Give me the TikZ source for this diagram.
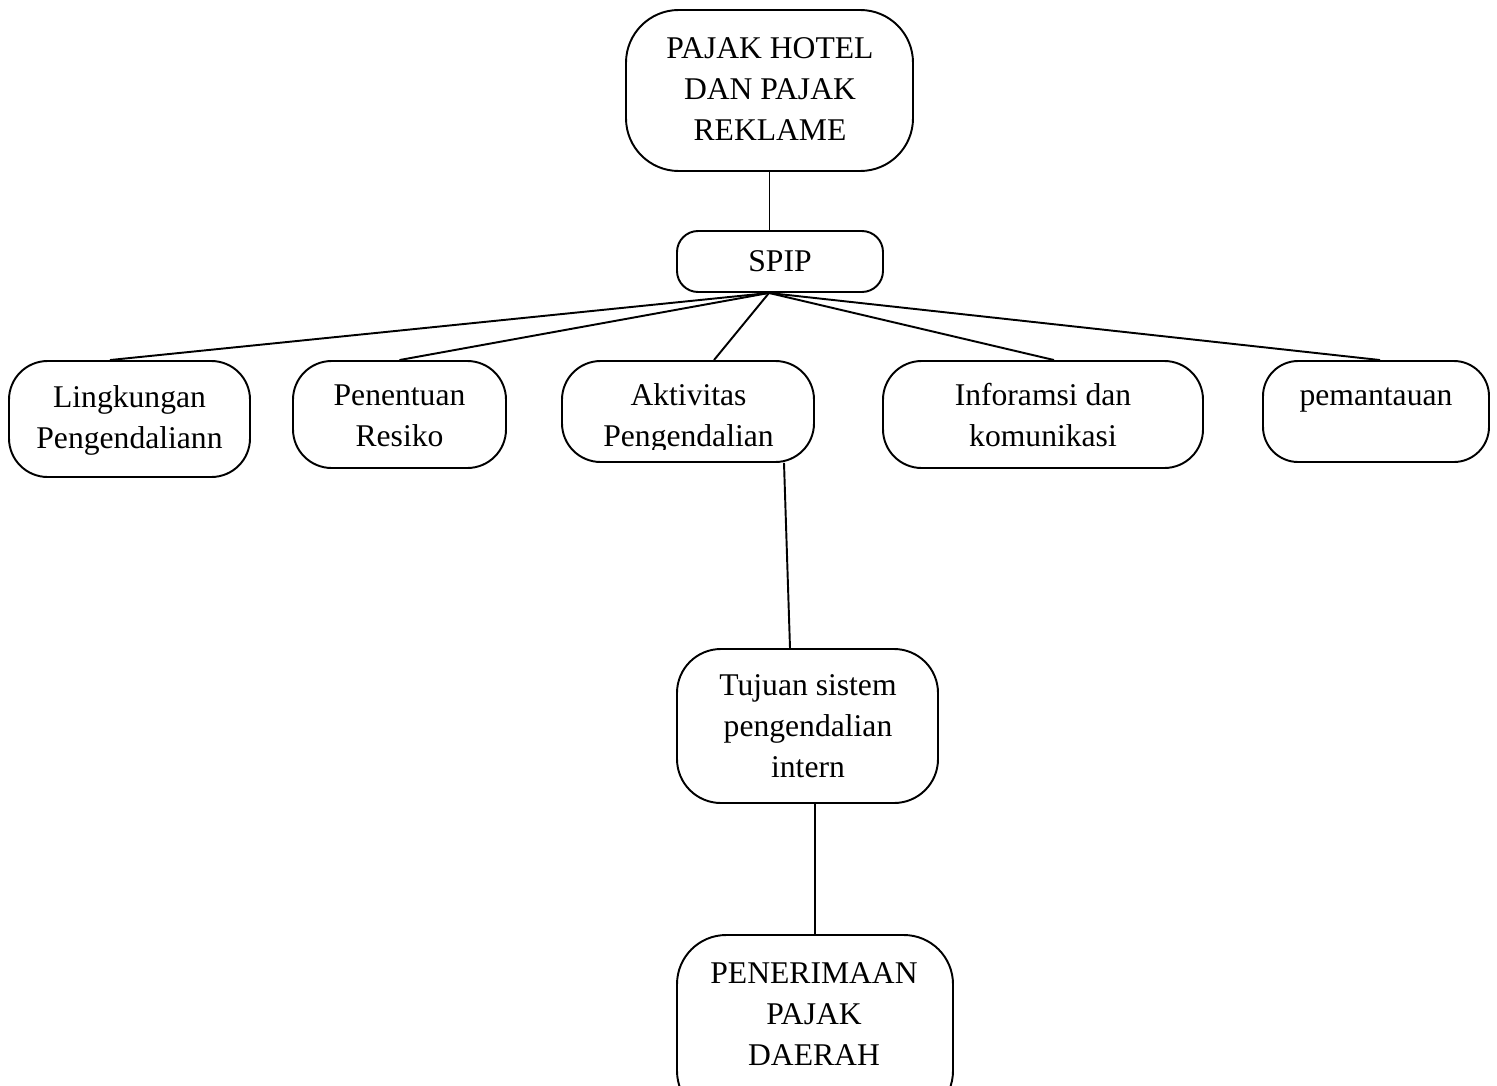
\documentclass[tikz,border=0pt]{standalone}
\usepackage{fontspec}
\setmainfont{Liberation Serif}
\usetikzlibrary{fit,calc}
\begin{document}
\begin{tikzpicture}[x=0.02cm,y=-0.02cm,
  box/.style={draw,line width=1.1pt,inner sep=0pt},
  txt/.style={font=\fontsize{18}{23.5}\selectfont,align=center,inner sep=0pt,anchor=north},
  conn/.style={line width=1.1pt}]
\clip (0,0) rectangle (1497,1085);
% boxes
\node[box,rounded corners=30,fit={(626,10) (913,171)}] (pajak) {};
\node[box,rounded corners=12,fit={(677,231) (883,292)}] (spip) {};
\node[box,rounded corners=22,fit={(9,361) (250,477)}] (lk) {};
\node[box,rounded corners=22,fit={(293,361) (506,468)}] (pr) {};
\node[box,rounded corners=22,fit={(562,361) (814,462)}] (ak) {};
\node[box,rounded corners=22,fit={(883,361) (1203,468)}] (ik) {};
\node[box,rounded corners=20,fit={(1263,361) (1489,462)}] (pm) {};
\node[box,rounded corners=25,fit={(677,649) (938,803)}] (tj) {};
\node[box,rounded corners=28,fit={(677,935) (953,1120)}] (pd) {};
% texts
\node[txt] (tpajak) at (770,29) {\strut PAJAK HOTEL\\DAN PAJAK\\REKLAME};
\node[txt] (tspip) at (780,242) {\strut SPIP};
\node[txt] (tlk) at (129.5,378) {\strut Lingkungan\\Pengendaliann};
\node[txt] (tpr) at (399.5,376) {\strut Penentuan\\Resiko};
\begin{scope}
\clip (565,365) rectangle (811,449);
\node[txt] (tak) at (688.5,376) {\strut Aktivitas\\Pengendalian};
\end{scope}
\node[txt] (tik) at (1043,376) {\strut Inforamsi dan\\komunikasi};
\node[txt] (tpm) at (1376,376) {\strut pemantauan};
\node[txt] (ttj) at (808,666) {\strut Tujuan sistem\\pengendalian\\intern};
\node[txt] (tpd) at (814,954) {\strut PENERIMAAN\\PAJAK\\DAERAH};
% connectors
\coordinate (hub) at ($(spip.south)+(-11,0)$);
\draw[conn] (pajak.south) -- (pajak.south |- spip.north);
\draw[conn] (hub) -- ($(lk.north)+(-19.5,0)$);
\draw[conn] (hub) -- (pr.north);
\draw[conn] (hub) -- ($(ak.north)+(26,0)$);
\draw[conn] (hub) -- ($(ik.north)+(11,0)$);
\draw[conn] (hub) -- ($(pm.north)+(4,0)$);
\draw[conn] ($(ak.south)+(96,0)$) -- ($(tj.north)+(-17.5,0)$);
\draw[conn] (pd.north |- tj.south) -- (pd.north);
\end{tikzpicture}
\end{document}
